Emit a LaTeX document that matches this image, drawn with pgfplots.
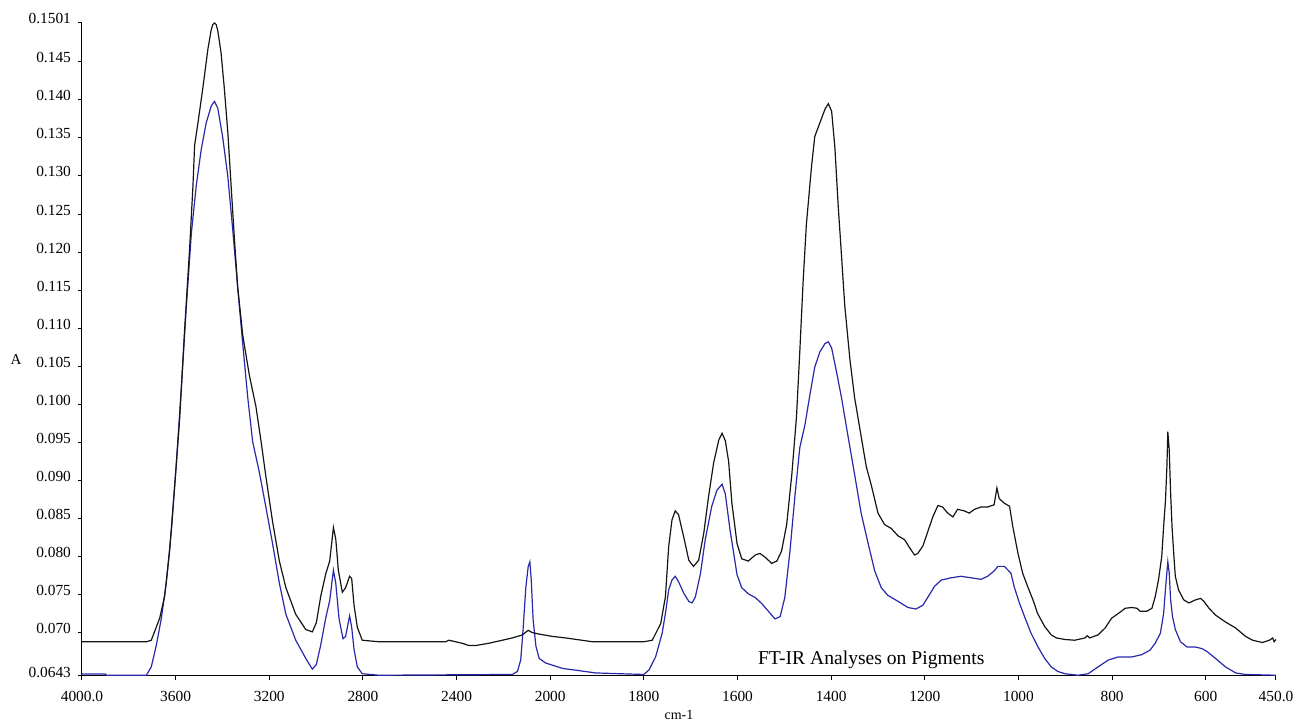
\documentclass[border=0pt]{standalone}
\usepackage{fontspec}
\setmainfont{Liberation Serif}
\usepackage{pgfplots}
\pgfplotsset{compat=1.18}
\definecolor{specblue}{RGB}{40,40,170}
\definecolor{specblack}{RGB}{20,20,20}

\begin{document}
\begin{tikzpicture}
\begin{axis}[
  scale only axis,
  width=597pt, height=326.5pt,
  % wavenumber axis: scale doubles below 2000 cm-1
  x filter/.expression={x>2000 ? 2000+(x-2000)/2 : x},
  x dir=reverse,
  xmin=450, xmax=3000,
  ymin=0.0643, ymax=0.1501,
  axis x line*=bottom, axis y line*=left,
  axis line style={-, black, line width=0.5pt},
  tick align=outside, major tick length=2pt,
  tick style={black, line width=0.5pt},
  xtick={450,600,800,1000,1200,1400,1600,1800,2000,2200,2400,2600,2800,3000},
  xticklabels={450.0,600,800,1000,1200,1400,1600,1800,2000,2400,2800,3200,3600,4000.0},
  ytick={0.0643,0.070,0.075,0.080,0.085,0.090,0.095,0.100,0.105,0.110,0.115,0.120,0.125,0.130,0.135,0.140,0.145,0.1501},
  yticklabels={0.0643,0.070,0.075,0.080,0.085,0.090,0.095,0.100,0.105,0.110,0.115,0.120,0.125,0.130,0.135,0.140,0.145,0.1501},
  tick label style={font=\fontsize{7.7}{8}\selectfont},
  yticklabel style={yshift=2pt},
  xticklabel style={yshift=-2pt},
  xlabel={cm-1}, ylabel={A},
  every axis x label/.style={at={(rel axis cs:0.5,0)}, anchor=center, yshift=-19.5pt, font=\fontsize{7}{8}\selectfont},
  every axis y label/.style={at={(rel axis cs:0,0.484)}, anchor=center, xshift=-33pt, font=\fontsize{7.5}{8}\selectfont},
  clip=false,
]
\addplot[specblue, line width=0.6pt] coordinates {
(4000,0.06455) (3900,0.06455) (3895,0.0644) (3725,0.0644) (3704,0.0655) (3682,0.0684) (3661,0.0719) (3640,0.0765)
(3618,0.0835) (3597,0.0922) (3576,0.1020) (3555,0.1125) (3533,0.1224) (3512,0.1287)
(3491,0.1334) (3470,0.1369) (3448,0.1392) (3434,0.1398) (3420,0.1389) (3399,0.1351)
(3377,0.1299) (3356,0.1229) (3335,0.1154) (3313,0.1078) (3292,0.1009) (3271,0.0951)
(3242,0.0910) (3214,0.0864) (3186,0.0817) (3157,0.0765) (3129,0.0724) (3087,0.0690)
(3044,0.0666) (3016,0.0652) (2999,0.0658) (2980,0.0684) (2959,0.0719) (2942,0.0742)
(2926,0.0782) (2916,0.0765) (2902,0.0718) (2885,0.0692) (2874,0.0695) (2857,0.0722)
(2848,0.0707) (2838,0.0678) (2824,0.0655) (2803,0.0646) (2732,0.0644)
(2162,0.0645) (2140,0.0649) (2126,0.0664) (2116,0.0704) (2104,0.0760) (2094,0.0787)
(2087,0.0793) (2081,0.0769) (2073,0.0717) (2061,0.0682) (2047,0.0666) (2019,0.0660)
(1974,0.0653) (1938,0.0650) (1903,0.0647) (1800,0.0645) (1789,0.0651) (1775,0.0668)
(1761,0.0699) (1754,0.0725) (1747,0.0756) (1740,0.0769) (1733,0.0774) (1726,0.0767)
(1715,0.0752) (1704,0.0741) (1697,0.0739) (1690,0.0747) (1679,0.0778) (1669,0.0822)
(1655,0.0866) (1644,0.0887) (1633,0.0895) (1626,0.0882) (1616,0.0835) (1601,0.0776)
(1591,0.0759) (1577,0.0751) (1562,0.0746) (1548,0.0738) (1534,0.0728) (1520,0.0718)
(1509,0.0721) (1499,0.0746) (1488,0.0807) (1477,0.0882) (1467,0.0943) (1456,0.0973)
(1445,0.1014) (1435,0.1049) (1424,0.1069) (1413,0.1080) (1406,0.1082) (1399,0.1074)
(1389,0.1044) (1378,0.1009) (1364,0.0958) (1350,0.0908) (1336,0.0857) (1321,0.0817)
(1307,0.0781) (1293,0.0759) (1279,0.0749) (1257,0.0741) (1236,0.0733) (1219,0.0731)
(1204,0.0736) (1194,0.0746) (1179,0.0761) (1165,0.0769) (1144,0.0772) (1123,0.0774)
(1101,0.0772) (1080,0.0770) (1066,0.0774) (1052,0.0781) (1044,0.0787) (1030,0.0787)
(1016,0.0778) (1009,0.0760) (998,0.0739) (987,0.0721) (973,0.0699) (959,0.0682)
(944,0.0666) (930,0.0655) (916,0.0649) (901,0.0646) (873,0.0644) (851,0.0646)
(830,0.0655) (808,0.0664) (787,0.0668) (758,0.0668) (737,0.0671) (719,0.0677)
(708,0.0686) (697,0.0699) (690,0.0725) (685,0.0765) (681,0.0793) (678,0.0778)
(675,0.0743) (671,0.0721) (665,0.0704) (654,0.0688) (640,0.0681) (622,0.0681)
(608,0.0679) (597,0.0675) (579,0.0666) (558,0.0655) (536,0.0647) (515,0.0645)
(450,0.0644)
};
\addplot[specblack, line width=0.6pt] coordinates {
(4000,0.0688) (3895,0.0688) (3725,0.0688) (3704,0.0690) (3668,0.0719) (3647,0.0748)
(3626,0.0806) (3604,0.0893) (3583,0.0980) (3562,0.1096) (3540,0.1206) (3526,0.1287)
(3519,0.1340) (3505,0.1369) (3484,0.1415) (3462,0.1467) (3448,0.1492) (3441,0.1499) (3434,0.1501)
(3427,0.1499) (3420,0.1491) (3406,0.1462) (3392,0.1415) (3377,0.1357) (3363,0.1287) (3349,0.1218)
(3335,0.1154) (3313,0.1090) (3285,0.1038) (3257,0.0997) (3235,0.0951) (3214,0.0904)
(3186,0.0846) (3157,0.0794) (3129,0.0759) (3087,0.0724) (3044,0.0704) (3016,0.0701)
(2999,0.0713) (2980,0.0748) (2959,0.0777) (2942,0.0794) (2926,0.0838) (2916,0.0823)
(2905,0.0782) (2888,0.0753) (2874,0.0759) (2857,0.0774) (2848,0.0771) (2838,0.0736)
(2824,0.0707) (2803,0.0690) (2733,0.0688)
(2447,0.0688) (2433,0.0690) (2376,0.0686) (2347,0.0683) (2319,0.0683) (2262,0.0686)
(2162,0.0693) (2119,0.0697) (2094,0.0703) (2076,0.0700) (2047,0.0698) (1995,0.0695)
(1967,0.0693) (1910,0.0688) (1800,0.0688) (1782,0.0690) (1764,0.0712) (1754,0.0747)
(1747,0.0813) (1740,0.0848) (1733,0.0860) (1726,0.0855) (1715,0.0826) (1704,0.0795)
(1694,0.0787) (1683,0.0795) (1672,0.0831) (1662,0.0878) (1651,0.0923) (1640,0.0953)
(1633,0.0962) (1626,0.0952) (1619,0.0925) (1612,0.0870) (1601,0.0817) (1591,0.0797)
(1577,0.0794) (1562,0.0802) (1552,0.0804) (1541,0.0799) (1527,0.0791) (1516,0.0794)
(1506,0.0807) (1495,0.0842) (1484,0.0908) (1474,0.0984) (1467,0.1069) (1460,0.1160)
(1453,0.1236) (1442,0.1312) (1435,0.1352) (1424,0.1370) (1413,0.1388) (1406,0.1395)
(1399,0.1385) (1392,0.1337) (1385,0.1261) (1378,0.1196) (1371,0.1130) (1360,0.1059)
(1350,0.1009) (1336,0.0958) (1325,0.0918) (1314,0.0893) (1300,0.0857) (1286,0.0842)
(1272,0.0837) (1257,0.0827) (1243,0.0822) (1233,0.0812) (1222,0.0802) (1215,0.0804)
(1204,0.0814) (1194,0.0832) (1183,0.0852) (1172,0.0867) (1162,0.0865) (1151,0.0857)
(1140,0.0852) (1130,0.0862) (1116,0.0860) (1105,0.0857) (1094,0.0862) (1080,0.0865)
(1066,0.0865) (1052,0.0868) (1046,0.0890) (1041,0.0876) (1030,0.0870) (1019,0.0866)
(1012,0.0839) (1001,0.0804) (991,0.0778) (980,0.0760) (969,0.0743) (959,0.0725)
(944,0.0708) (930,0.0697) (919,0.0693) (901,0.0691) (880,0.0690) (858,0.0693)
(853,0.0696) (848,0.0693) (830,0.0697) (815,0.0706) (801,0.0719) (787,0.0725)
(772,0.0732) (758,0.0733) (747,0.0732) (740,0.0728) (726,0.0728) (715,0.0732)
(708,0.0747) (701,0.0769) (694,0.0800) (690,0.0839) (686,0.0874) (683,0.0918)
(681,0.0964) (678,0.0940) (675,0.0883) (672,0.0839) (668,0.0800) (665,0.0774)
(658,0.0756) (647,0.0743) (636,0.0739) (622,0.0743) (611,0.0745) (604,0.0741)
(593,0.0732) (579,0.0723) (558,0.0714) (536,0.0706) (515,0.0695) (500,0.0690)
(479,0.0687) (464,0.0690) (457,0.0693) (454,0.0688) (450,0.0691)
};
\node[font=\fontsize{9.8}{11}\selectfont] at (rel axis cs:0.661,0.0245) {FT-IR Analyses on Pigments};
\end{axis}
\pgfresetboundingbox
\path[use as bounding box] (-41pt,-22.5pt) rectangle (614.5pt,338pt);
\end{tikzpicture}
\end{document}
